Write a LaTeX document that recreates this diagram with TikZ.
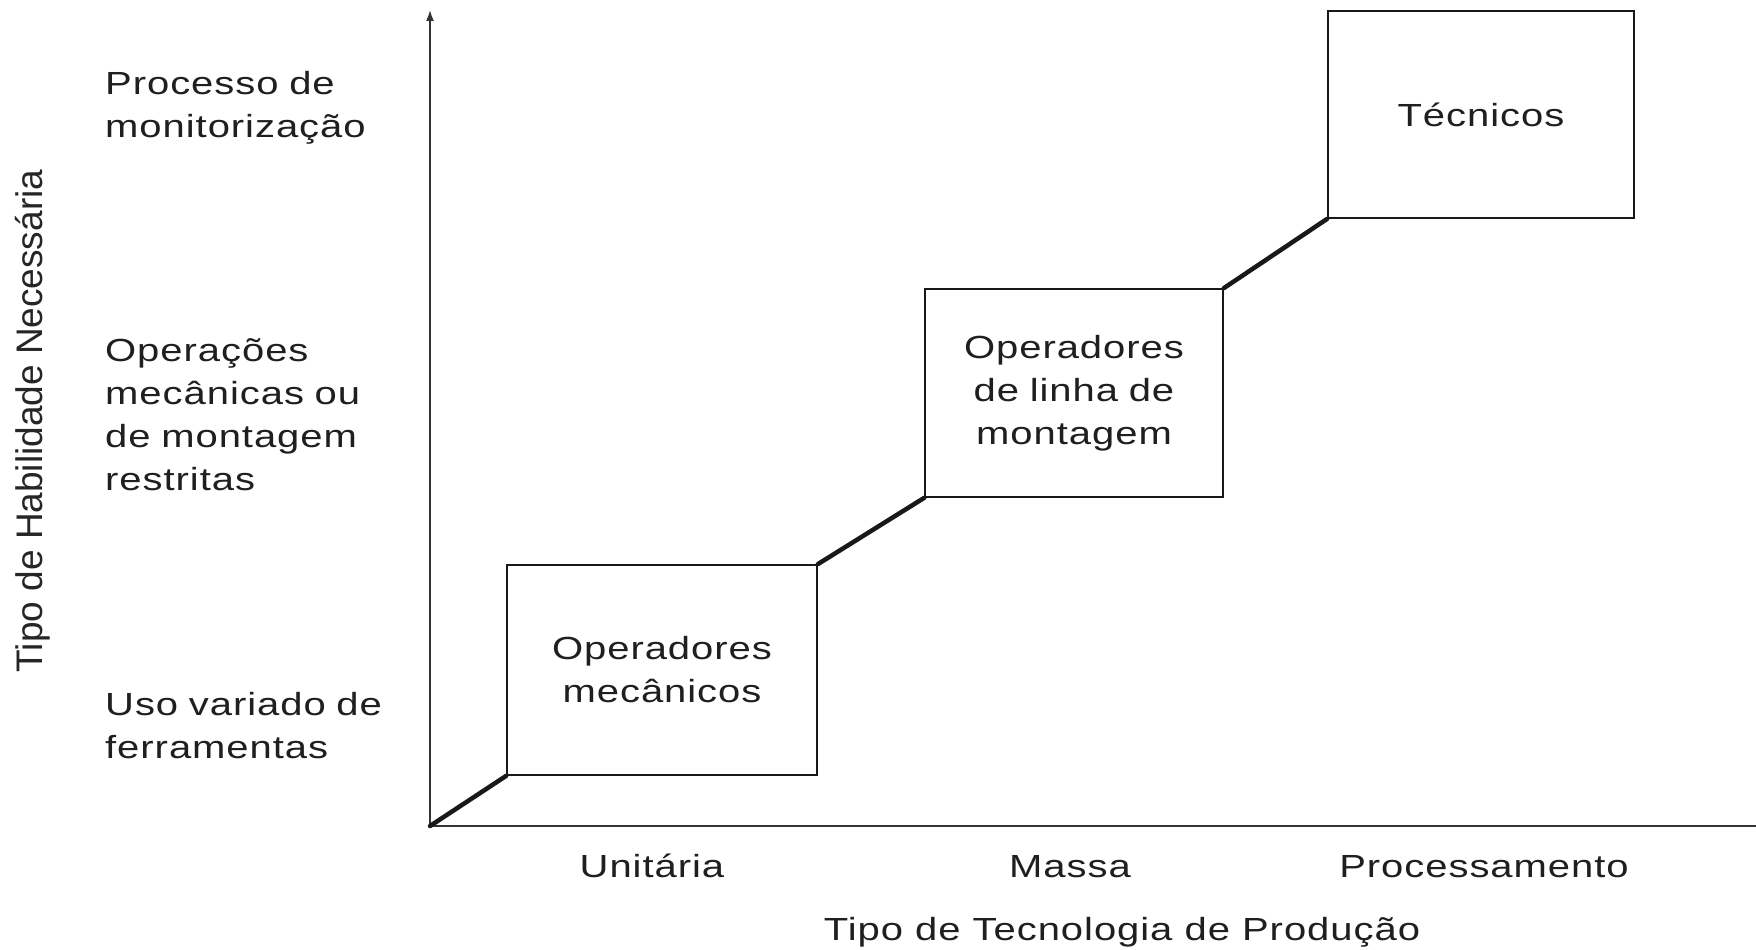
\documentclass[tikz,border=0pt]{standalone}
\usepackage{fontspec}
\setmainfont{Liberation Sans}
\newfontfamily\lblfont[FakeStretch=1.25,LetterSpace=3]{Liberation Sans}
\newfontfamily\axfont{Liberation Sans}
\usetikzlibrary{arrows.meta}
\begin{document}
\begin{tikzpicture}[x=1pt,y=-1pt,
  lbl/.style={font=\lblfont\fontsize{32}{43}\selectfont, inner sep=0pt, text=black!88},
  stage/.style={draw=black!90, line width=1.8pt, lbl},
  axisline/.style={draw=black!80, line width=1.6pt},
  stepline/.style={draw=black!90, line width=4.5pt, line cap=round},
  leftlbl/.style={lbl, anchor=base west, text width=340, align=left},
  botlbl/.style={lbl, anchor=base}
]
\fill[white] (0,0) rectangle (1756,950);
\useasboundingbox (0,0) rectangle (1756,950);

% axes
\coordinate (O) at (430,826);
\coordinate (ytop) at (430,10);
\coordinate (xend) at (1756,826);
\draw[axisline, -{Latex[length=11pt,width=8pt]}] (O) -- (ytop);
\draw[axisline] (O) -- (xend);

% stage boxes
\node[stage, minimum width=310, minimum height=210, text width=310, align=center] (b1) at (662,670) {Operadores\\mecânicos};
\node[stage, minimum width=298, minimum height=208, text width=298, align=center] (b2) at (1074,393) {Operadores\\de linha de\\montagem};
\node[stage, minimum width=306, minimum height=207, text width=306, align=center] (b3) at (1481,114.5) {Técnicos};

% steps
\draw[stepline] (O) -- (b1.south west);
\draw[stepline] (b1.north east) -- (b2.south west);
\draw[stepline] (b2.north east) -- (b3.south west);

% y-axis level labels
\node[leftlbl] (l1) at (105,95) {Processo de\\monitorização};
\node[leftlbl] (l2) at (105,361) {Operações\\mecânicas ou\\de montagem\\restritas};
\node[leftlbl] (l3) at (105,715) {Uso variado de\\ferramentas};

% x-axis labels
\node[botlbl] (u) at (652,877) {Unitária};
\node[botlbl] (m) at (1070,877) {Massa};
\node[botlbl] (p) at (1484,877) {Processamento};
\node[botlbl] (xt) at (1122,940) {Tipo de Tecnologia de Produção};

% y-axis title
\node[font=\axfont\fontsize{37}{44}\selectfont, text=black!85, rotate=90, anchor=base, inner sep=0pt] (yt) at (42,421) {Tipo de Habilidade Necessária};
\end{tikzpicture}
\end{document}
